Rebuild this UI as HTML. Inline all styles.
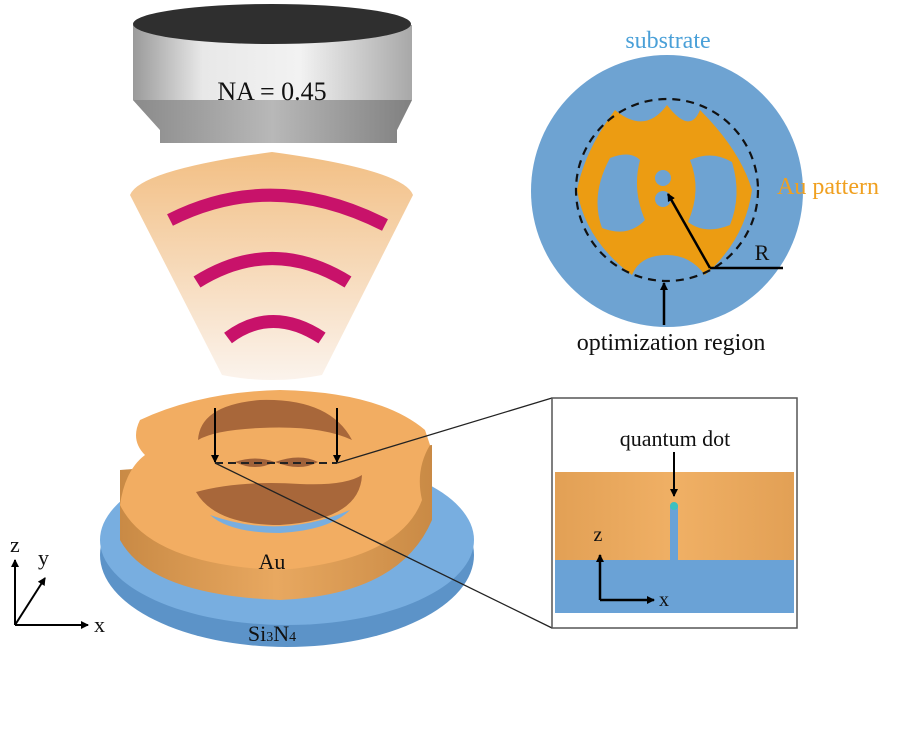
<!DOCTYPE html>
<html><head><meta charset="utf-8"><style>
html,body{margin:0;padding:0;background:#fff;}
svg{display:block;font-family:"Liberation Serif",serif;}
</style></head><body>
<svg width="900" height="731" viewBox="0 0 900 731" xmlns="http://www.w3.org/2000/svg">
<defs>
<linearGradient id="lensBody" x1="0" x2="1">
<stop offset="0" stop-color="#9a9a9a"/><stop offset="0.25" stop-color="#e8e8e8"/><stop offset="0.6" stop-color="#f2f2f2"/><stop offset="1" stop-color="#a8a8a8"/>
</linearGradient>
<linearGradient id="lensBev" x1="0" x2="1">
<stop offset="0" stop-color="#8a8a8a"/><stop offset="0.5" stop-color="#b8b8b8"/><stop offset="1" stop-color="#808080"/>
</linearGradient>
<linearGradient id="fan" x1="0" y1="0" x2="0" y2="1">
<stop offset="0" stop-color="#f2bf84"/><stop offset="1" stop-color="#fbf3ec"/>
</linearGradient>
<linearGradient id="auSide" x1="0" x2="1">
<stop offset="0" stop-color="#c98a45"/><stop offset="0.5" stop-color="#e8a860"/><stop offset="1" stop-color="#c98a45"/>
</linearGradient>
<linearGradient id="inAu" x1="0" x2="1">
<stop offset="0" stop-color="#e2a055"/><stop offset="0.5" stop-color="#f0b065"/><stop offset="1" stop-color="#e2a055"/>
</linearGradient>
<marker id="ah" markerWidth="8" markerHeight="8" refX="7" refY="4" orient="auto" markerUnits="userSpaceOnUse"><path d="M0,0 L8,4 L0,8 Z" fill="#000"/></marker>
</defs>

<path d="M133,25 L133,100 L160,130 L160,143 L397,143 L397,130 L412,100 L412,25 Z" fill="url(#lensBody)"/>
<path d="M133,100 L160,130 L160,143 L397,143 L397,130 L412,100 Z" fill="url(#lensBev)"/>
<ellipse cx="272" cy="24" rx="139" ry="20" fill="#2f2f2f"/>
<text x="272" y="100" font-size="26" text-anchor="middle" fill="#111">NA = 0.45</text>

<path d="M130,195 Q140,170 272,152 Q404,170 413,195 L322,375 Q272,385 222,375 Z" fill="url(#fan)"/>
<path d="M170,220 Q273,168 385,225" stroke="#c8126a" stroke-width="13" fill="none"/>
<path d="M197,282 Q272,235 348,282" stroke="#c8126a" stroke-width="13" fill="none"/>
<path d="M228,338 Q272,305 322,338" stroke="#c8126a" stroke-width="13" fill="none"/>

<ellipse cx="287" cy="555" rx="187" ry="92" fill="#5c93c8"/>
<ellipse cx="287" cy="540" rx="187" ry="85" fill="#78aee0"/>
<path d="M120,470 L120,540 Q150,595 280,600 Q400,595 432,520 L432,445 Z" fill="url(#auSide)"/>
<path d="M140,420 Q200,392 280,390 Q380,392 425,430 L430,445 Q415,470 422,500 Q400,560 280,570 Q150,565 120,505 Q125,470 145,455 Q130,440 140,420 Z" fill="#f2ad62"/>
<path d="M198,440 Q200,405 260,400 Q330,398 352,440 Q320,425 260,428 Q215,430 198,440 Z" fill="#a8673a"/>
<path d="M196,492 Q240,480 300,484 Q345,486 362,475 Q360,520 280,525 Q215,525 196,492 Z" fill="#a8673a"/>
<path d="M210,515 Q280,540 350,510 Q330,530 280,533 Q230,533 210,515 Z" fill="#78aee0"/>
<path d="M235,462 Q255,455 275,462 Q255,472 235,462 Z M275,462 Q300,453 318,462 Q300,472 275,462 Z" fill="#a0623a"/>
<line x1="215" y1="463" x2="337" y2="463" stroke="#222" stroke-width="2" stroke-dasharray="8,5"/>
<line x1="215" y1="408" x2="215" y2="462" stroke="#000" stroke-width="2" marker-end="url(#ah)"/>
<line x1="337" y1="408" x2="337" y2="462" stroke="#000" stroke-width="2" marker-end="url(#ah)"/>
<text x="272" y="569" font-size="22" text-anchor="middle" fill="#111">Au</text>
<text x="272" y="641" font-size="22" text-anchor="middle" fill="#111">Si<tspan font-size="14">3</tspan>N<tspan font-size="14">4</tspan></text>

<line x1="337" y1="463" x2="552" y2="398" stroke="#222" stroke-width="1.3"/>
<line x1="215" y1="463" x2="552" y2="628" stroke="#222" stroke-width="1.3"/>

<rect x="552" y="398" width="245" height="230" fill="#fff" stroke="#555" stroke-width="1.5"/>
<rect x="555" y="560" width="239" height="53" fill="#6aa2d6"/>
<rect x="555" y="472" width="239" height="88" fill="url(#inAu)"/>
<rect x="670" y="505" width="8" height="62" fill="#6aa2d6"/>
<circle cx="674" cy="506" r="4" fill="#3cc0c0"/>
<text x="675" y="446" font-size="22" text-anchor="middle" fill="#111">quantum dot</text>
<line x1="674" y1="452" x2="674" y2="496" stroke="#000" stroke-width="2" marker-end="url(#ah)"/>
<line x1="600" y1="600" x2="600" y2="555" stroke="#000" stroke-width="2.5" marker-end="url(#ah)"/>
<line x1="600" y1="600" x2="654" y2="600" stroke="#000" stroke-width="2.5" marker-end="url(#ah)"/>
<text x="598" y="541" font-size="20" text-anchor="middle" fill="#111">z</text>
<text x="664" y="606" font-size="20" text-anchor="middle" fill="#111">x</text>

<line x1="15" y1="625" x2="15" y2="560" stroke="#000" stroke-width="2" marker-end="url(#ah)"/>
<line x1="15" y1="625" x2="88" y2="625" stroke="#000" stroke-width="2" marker-end="url(#ah)"/>
<line x1="15" y1="625" x2="45" y2="578" stroke="#000" stroke-width="2" marker-end="url(#ah)"/>
<text x="10" y="552" font-size="22" fill="#111">z</text>
<text x="38" y="565" font-size="22" fill="#111">y</text>
<text x="94" y="632" font-size="22" fill="#111">x</text>

<circle cx="667" cy="191" r="136" fill="#6ea3d2"/>
<path d="M615,110 Q645,135 667,105 Q690,135 700,110 Q740,150 752,190 Q745,240 705,275 Q690,255 667,255 Q640,255 632,275 Q585,240 577,190 Q585,150 615,110 Z" fill="#ec9c12"/>
<path d="M610,158 Q630,150 640,160 Q632,190 645,220 Q628,238 602,228 Q590,195 610,158 Z" fill="#6ea3d2"/>
<path d="M690,160 Q712,150 732,162 Q742,195 730,225 Q705,235 688,222 Q702,190 690,160 Z" fill="#6ea3d2"/>
<circle cx="663" cy="178" r="8" fill="#6ea3d2"/>
<circle cx="663" cy="199" r="8" fill="#6ea3d2"/>
<circle cx="667" cy="190" r="91" fill="none" stroke="#111" stroke-width="2.2" stroke-dasharray="8,6"/>
<line x1="710" y1="268" x2="668" y2="194" stroke="#000" stroke-width="2.5" marker-end="url(#ah)"/>
<line x1="710" y1="268" x2="783" y2="268" stroke="#000" stroke-width="2.5"/>
<text x="762" y="260" font-size="22" text-anchor="middle" fill="#111">R</text>
<line x1="664" y1="325" x2="664" y2="283" stroke="#000" stroke-width="2.5" marker-end="url(#ah)"/>
<text x="671" y="350" font-size="24" text-anchor="middle" fill="#111">optimization region</text>
<text x="668" y="48" font-size="24" text-anchor="middle" fill="#4aa0d8">substrate</text>
<text x="777" y="194" font-size="24" fill="#f0a020">Au pattern</text>
</svg>
</body></html>
